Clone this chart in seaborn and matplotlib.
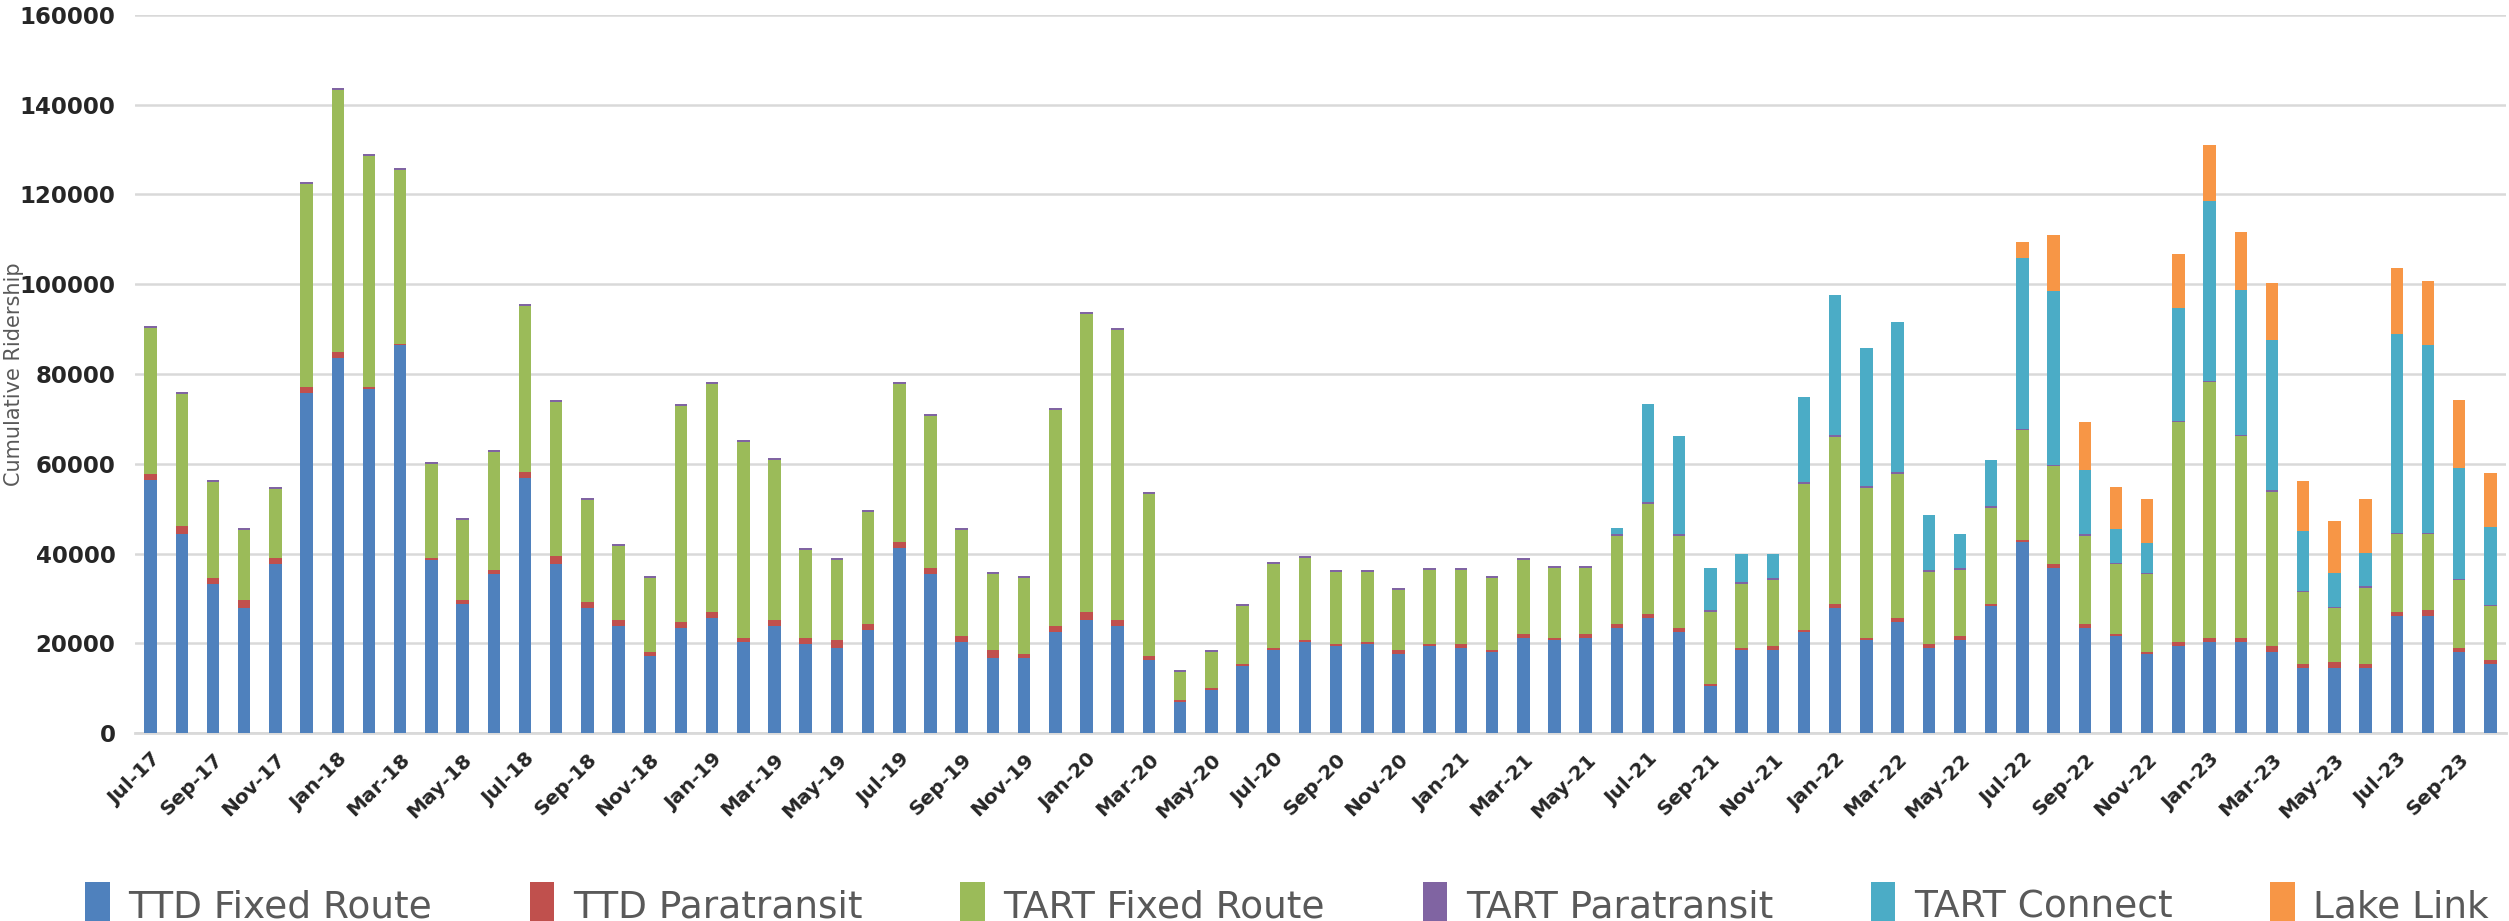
import numpy as np
import pandas as pd
import seaborn as sns
import matplotlib.pyplot as plt
from matplotlib.patches import Patch

# Месяцы: с Jul-17 по Oct-23 (76 столбцов)
months = pd.date_range("2017-07-01", periods=76, freq="MS").strftime("%b-%y").tolist()

# Значения по каждому сегменту
ttd_fixed = [56400, 44300, 33200, 27950, 37700, 75650, 83500, 76550, 86350, 38600,
             28850, 35450, 56800, 37700, 27950, 23850, 17250, 23400, 25700, 20350,
             23850, 19900, 18950, 22950, 41250, 35450, 20350, 16700, 16700, 22500,
             25200, 23850, 16350, 6950, 9650, 15000, 18500, 20350, 19450, 19900,
             17600, 19450, 18950, 18050, 21250, 20800, 21250, 23400, 25700, 22500,
             10550, 18500, 18500, 22500, 27850, 20800, 24750, 18950, 20800, 28300,
             42600, 36800, 23400, 21600, 17600, 19450, 20350, 20350, 18050, 14550,
             14550, 14550, 26150, 26150, 18050, 15450]
ttd_para = [1300, 1800, 1300, 1700, 1250, 1500, 1350, 450, 350, 350,
            900, 900, 1350, 1700, 1250, 1350, 800, 1350, 1350, 900,
            1350, 1350, 1850, 1350, 1350, 1350, 1250, 1800, 900, 1350,
            1850, 1350, 800, 450, 450, 300, 450, 450, 450, 450,
            900, 450, 950, 450, 800, 450, 800, 900, 900, 900,
            450, 450, 950, 450, 900, 450, 950, 950, 800, 450,
            450, 900, 900, 450, 450, 900, 900, 900, 1400, 900,
            1350, 900, 900, 1250, 900, 900]
tart_fixed = [32500, 29400, 21400, 15550, 15350, 45050, 58400, 51500, 38700, 20900,
              17750, 26250, 36950, 34300, 22700, 16500, 16500, 48050, 50650, 43600,
              35600, 19550, 17700, 25000, 35100, 33850, 23600, 16950, 16950, 48050,
              66350, 64550, 36150, 6250, 7950, 13000, 18750, 18150, 16000, 15550,
              13400, 16450, 16450, 16050, 16450, 15550, 14750, 19650, 24400, 20550,
              16050, 14250, 14650, 32500, 37150, 33300, 32000, 16000, 14750, 21350,
              24450, 21800, 19650, 15650, 17400, 48950, 56900, 44850, 34300, 16000,
              11950, 16950, 17250, 16900, 15150, 11950]
tart_para = [450] * 60 + [300] * 16
tart_connect = [0] * 47 + [1250, 21800, 21700, 9300, 6300, 5350, 18950, 31150, 30750,
                           33400, 12200, 7500, 10250, 37950, 38700, 14400, 7500, 6700,
                           25050, 40100, 32300, 33400, 13300, 7600, 7500, 44250, 41950,
                           24700, 17350]
lake_link = [0] * 60 + [3650, 12400, 10700, 9350, 9750, 12000, 12500, 12850, 12800,
                        11150, 11600, 12050, 14750, 14200, 15100, 12050]

series = ["TTD Fixed Route", "TTD Paratransit", "TART Fixed Route",
          "TART Paratransit", "TART Connect", "Lake Link"]
colors = ["#4F81BD", "#C0504D", "#9BBB59", "#8064A2", "#4BACC6", "#F79646"]

df = pd.DataFrame({"month": months,
                   "TTD Fixed Route": ttd_fixed,
                   "TTD Paratransit": ttd_para,
                   "TART Fixed Route": tart_fixed,
                   "TART Paratransit": tart_para,
                   "TART Connect": tart_connect,
                   "Lake Link": lake_link})
# накопленные суммы для "стопки" столбцов
cum = df[series].cumsum(axis=1)
cum["month"] = df["month"]

sns.set_theme(style="white")
plt.rcParams["font.family"] = ["DejaVu Sans"]

fig = plt.figure(figsize=(25.09, 9.21), dpi=100)
ax = fig.add_axes([0.0538, 0.204, 0.945, 0.78])

# рисуем сверху вниз: сначала полная высота, затем нижние слои поверх
for name, col in reversed(list(zip(series, colors))):
    sns.barplot(data=cum, x="month", y=name, order=months, color=col,
                saturation=1, width=0.4, linewidth=0, ax=ax, zorder=3)

ax.set_xlim(-0.5, 75.5)
ax.set_ylim(0, 160000)
ax.set_yticks(np.arange(0, 160001, 20000))
ax.yaxis.grid(True, color="#D9D9D9", linewidth=1.8, zorder=0)
ax.set_axisbelow(True)
for s in ["top", "right", "left"]:
    ax.spines[s].set_visible(False)
ax.spines["bottom"].set_color("#D9D9D9")
ax.spines["bottom"].set_linewidth(2)

ax.set_xticks(np.arange(0, 76, 2))
ax.set_xticklabels(months[::2], rotation=45, ha="right", rotation_mode="anchor",
                   fontweight="bold", fontsize=14.5)
ax.set_xticks(np.arange(-0.5, 76, 2), minor=True)
ax.tick_params(axis="x", which="major", length=0, pad=12)
ax.tick_params(axis="x", which="minor", length=10, width=1.5, color="#D9D9D9")
ax.tick_params(axis="y", length=0, pad=14, labelsize=16.5)
for t in ax.get_yticklabels():
    t.set_fontweight("bold")

ax.set_xlabel("")
ax.set_ylabel("Cumulative Ridership", fontsize=15, color="#595959")
ax.yaxis.set_label_coords(-0.047, 0.5)

handles = [Patch(facecolor=c, edgecolor="none", label=n) for n, c in zip(series, colors)]
fig.legend(handles=handles, loc="lower left", bbox_to_anchor=(0.028, -0.024, 0.97, 0.06),
           mode="expand", ncol=6, frameon=False, fontsize=27, labelcolor="#595959",
           handlelength=0.65, handleheight=1.5, handletextpad=0.5, borderaxespad=0)

fig.savefig("out.png", dpi=100)
